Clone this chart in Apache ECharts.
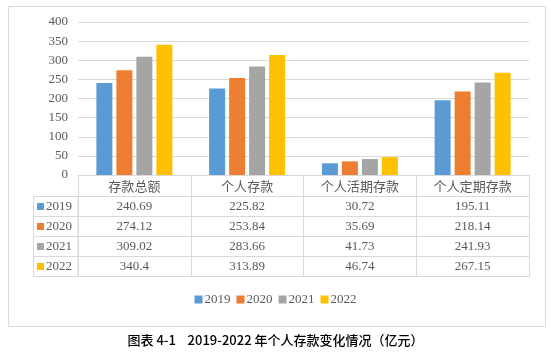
<!DOCTYPE html>
<html>
<head>
<meta charset="utf-8">
<script src="https://cdn.jsdelivr.net/npm/echarts@6/dist/echarts.min.js"></script>
<style>
html,body{margin:0;padding:0;background:#fff;}
#main{width:551px;height:355px;}
</style>
</head>
<body>
<div id="main"></div>
<script>
// ---- data ----
var categories = ['存款总额', '个人存款', '个人活期存款', '个人定期存款'];
var years = ['2019', '2020', '2021', '2022'];
var v2019 = [240.69, 225.82, 30.72, 195.11];
var v2020 = [274.12, 253.84, 35.69, 218.14];
var v2021 = [309.02, 283.66, 41.73, 241.93];
var v2022 = [340.4, 313.89, 46.74, 267.15];
var yTicks = [0, 50, 100, 150, 200, 250, 300, 350, 400];
var caption = '图表 4-1    2019-2022 年个人存款变化情况（亿元）';

var seriesValues = [v2019, v2020, v2021, v2022];
var colors = ['#5B9BD5', '#ED7D31', '#A5A5A5', '#FFC000'];
var borderC = '#d9d9d9';
var textC = '#595959';
var serif = '"Liberation Serif", "Times New Roman", serif';
var cjk = '"Noto Sans CJK SC", sans-serif';

var gridLeft = 78, gridRight = 529, gridTop = 22, gridBottom = 175;
var headerH = 21.5, rowH = 20;

var xAxes = [{
  type: 'category', gridIndex: 0, position: 'bottom', offset: 0,
  data: categories,
  axisLine: {show: true, lineStyle: {color: borderC}},
  axisTick: {show: true, length: headerH, alignWithLabel: false, lineStyle: {color: borderC}},
  axisLabel: {margin: 4, fontSize: 13, fontFamily: cjk, color: textC, lineHeight: 14}
}];
seriesValues.forEach(function (vals, k) {
  xAxes.push({
    type: 'category', gridIndex: 0, position: 'bottom', offset: headerH + rowH * k,
    data: vals.map(function (v) { return String(v); }),
    axisLine: {show: true, lineStyle: {color: borderC}},
    axisTick: {show: true, length: rowH, alignWithLabel: false, lineStyle: {color: borderC}},
    axisLabel: {margin: 3, fontSize: 13, fontFamily: serif, color: textC, lineHeight: 14, interval: 0}
  });
});
xAxes.push({
  type: 'category', gridIndex: 0, position: 'bottom', offset: headerH + rowH * 4,
  data: categories,
  axisLine: {show: true, lineStyle: {color: borderC}},
  axisTick: {show: false}, axisLabel: {show: false}
});

var graphics = [
  {type: 'rect', shape: {x: 8.5, y: 6.5, width: 537, height: 320}, style: {fill: 'none', stroke: borderC, lineWidth: 1}, silent: true},
  {type: 'rect', shape: {x: 33.5, y: gridBottom + headerH, width: gridLeft - 33.5, height: rowH * 4}, style: {fill: 'none', stroke: borderC, lineWidth: 1}, silent: true},
  {type: 'text', left: 'center', top: 334, style: {text: caption, font: '500 13px ' + cjk, fill: '#000'}}
];
years.forEach(function (y, k) {
  var top = gridBottom + headerH + rowH * k;
  if (k > 0) {
    graphics.push({type: 'line', shape: {x1: 33.5, y1: top, x2: gridLeft, y2: top}, style: {stroke: borderC, lineWidth: 1}, silent: true});
  }
  graphics.push({type: 'rect', shape: {x: 37, y: top + 6.5, width: 7, height: 7}, style: {fill: colors[k]}, silent: true});
  graphics.push({type: 'text', x: 46, y: top + 10.5, style: {text: y, font: '13px ' + serif, fill: textC, textVerticalAlign: 'middle', verticalAlign: 'middle'}, silent: true});
});

var series = years.map(function (y, k) {
  return {
    name: y, type: 'bar', xAxisIndex: 0, yAxisIndex: 0,
    data: seriesValues[k], barWidth: 16, barGap: '25%',
    itemStyle: {color: colors[k]}
  };
});

var chart = echarts.init(document.getElementById('main'), null, {renderer: 'canvas'});
chart.setOption({
  animation: false,
  backgroundColor: '#fff',
  color: colors,
  grid: {left: gridLeft, right: 551 - gridRight, top: gridTop, bottom: 355 - gridBottom, containLabel: false},
  xAxis: xAxes,
  yAxis: {
    type: 'value', min: yTicks[0], max: yTicks[yTicks.length - 1], interval: yTicks[1] - yTicks[0],
    axisLine: {show: false}, axisTick: {show: false},
    axisLabel: {margin: 10, fontSize: 13, fontFamily: serif, color: textC},
    splitLine: {lineStyle: {color: borderC}}
  },
  legend: {
    data: years, bottom: 44, left: 'center', icon: 'rect', itemWidth: 8, itemHeight: 8, itemGap: 6,
    textStyle: {fontSize: 13, fontFamily: serif, color: textC, padding: [0, 0, 0, -3]}
  },
  graphic: graphics,
  series: series
});
</script>
</body>
</html>
